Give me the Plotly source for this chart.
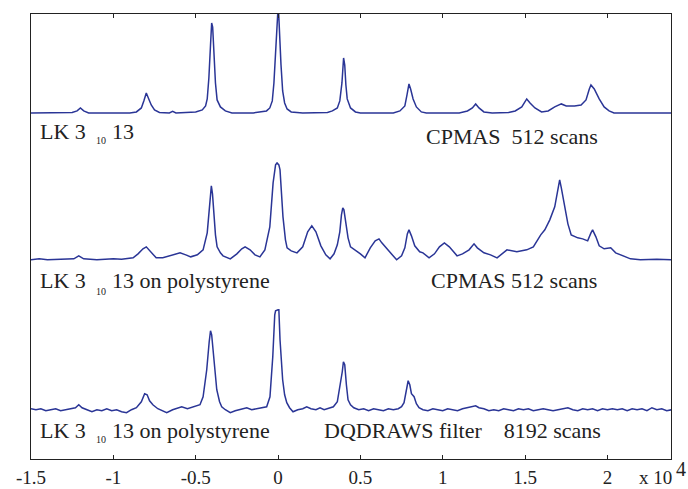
import plotly.graph_objects as go

# ---- data (x in units of 10^4 Hz, intensities in arbitrary units above each baseline) ----
s1_x = [-1.50, -1.30, -1.25, -1.22, -1.20, -1.18, -1.15, -1.00, -0.90, -0.86, -0.83, -0.815, -0.80, -0.79, -0.77,
        -0.75, -0.72, -0.66, -0.64, -0.62, -0.55, -0.50, -0.46, -0.44, -0.43, -0.42, -0.41, -0.403, -0.397, -0.39,
        -0.38, -0.37, -0.35, -0.32, -0.28, -0.15, -0.10, -0.07, -0.05, -0.035, -0.025, -0.015, -0.008, -0.002, 0.004,
        0.01, 0.018, 0.028, 0.04, 0.055, 0.08, 0.15, 0.25, 0.30, 0.33, 0.36, 0.375, 0.388, 0.398, 0.405, 0.412, 0.42,
        0.44, 0.47, 0.50, 0.70, 0.74, 0.77, 0.783, 0.795, 0.805, 0.82, 0.84, 0.87, 0.90, 1.10, 1.15, 1.18, 1.20, 1.22,
        1.25, 1.30, 1.40, 1.44, 1.48, 1.50, 1.51, 1.53, 1.56, 1.60, 1.64, 1.68, 1.72, 1.75, 1.80, 1.84, 1.87, 1.89,
        1.90, 1.92, 1.95, 1.98, 2.01, 2.04, 2.20, 2.39]
s1_y = [0, 0, 0.5, 2, 5, 2, 0, 0, 0, 1, 5, 12, 20, 16, 8,
        3, 0.5, 0, 1.5, 0, 0.5, 1, 3, 7, 14, 35, 68, 90, 86, 62,
        30, 13, 6, 2, 0, 0, 1, 2, 5, 12, 30, 62, 78, 99, 99,
        75, 48, 22, 10, 4, 1, 0, 0, 0.5, 2, 5, 12, 30, 55, 48, 28, 14,
        5, 1, 0, 0, 2, 7, 18, 29, 24, 14, 6, 1, 0, 0, 2, 5, 9, 5,
        1, 0, 0.5, 2, 6, 11, 14, 10, 5, 1, 2, 6, 9, 7, 7, 8, 13, 24,
        28, 24, 14, 6, 2, 0, 0, 0]

s2_x = [-1.50, -1.45, -1.40, -1.30, -1.24, -1.21, -1.18, -1.10, -1.00, -0.95, -0.88, -0.85, -0.82, -0.80, -0.78,
        -0.74, -0.70, -0.66, -0.62, -0.595, -0.56, -0.53, -0.49, -0.455, -0.43, -0.42, -0.41, -0.405, -0.398, -0.39,
        -0.38, -0.37, -0.35, -0.334, -0.29, -0.25, -0.22, -0.20, -0.17, -0.14, -0.11, -0.08, -0.05, -0.03, -0.015,
        -0.006, 0.005, 0.012, 0.02, 0.03, 0.045, 0.055, 0.08, 0.115, 0.15, 0.18, 0.205, 0.23, 0.26, 0.29, 0.316,
        0.34, 0.36, 0.375, 0.385, 0.393, 0.40, 0.41, 0.425, 0.44, 0.478, 0.50, 0.528, 0.56, 0.59, 0.613, 0.63, 0.66,
        0.69, 0.72, 0.75, 0.77, 0.785, 0.795, 0.81, 0.83, 0.86, 0.88, 0.917, 0.95, 0.98, 1.01, 1.04, 1.087, 1.12,
        1.16, 1.19, 1.21, 1.25, 1.29, 1.33, 1.39, 1.45, 1.51, 1.55, 1.595, 1.62, 1.65, 1.68, 1.70, 1.71, 1.72, 1.74,
        1.76, 1.78, 1.82, 1.85, 1.88, 1.90, 1.91, 1.93, 1.95, 1.98, 2.02, 2.05, 2.10, 2.14, 2.20, 2.30, 2.39]
s2_y = [0, 1, 0, 0.5, 1, 4, 1, 0, 1, 0.5, 2, 6, 11, 13, 9,
        2, 2, 4, 6, 7, 5, 3, 5, 10, 27, 50, 72, 74, 66, 45,
        25, 13, 7, 4, 1, 6, 11, 13, 10, 5, 3, 10, 33, 77, 95,
        97, 95, 90, 65, 43, 20, 12, 9, 7, 13, 28, 34, 28, 14, 5, 1,
        6, 15, 28, 45, 52, 50, 38, 22, 13, 9, 6, 2, 12, 19, 21, 17, 11,
        5, 0, 4, 12, 26, 30, 24, 14, 8, 7, 2, 6, 13, 17, 13, 4, 6,
        10, 16, 12, 7, 5, 2, 10, 8, 10, 13, 25, 30, 40, 53, 70, 80, 72, 53,
        36, 25, 22, 21, 19, 27, 30, 23, 14, 11, 12, 7, 4, 1, 0, 0.5, 0]

s3_x = [-1.50, -1.47, -1.44, -1.41, -1.38, -1.35, -1.32, -1.29, -1.26, -1.23, -1.21, -1.19, -1.16, -1.13, -1.10,
        -1.07, -1.04, -1.01, -0.98, -0.95, -0.92, -0.89, -0.86, -0.83, -0.81, -0.795, -0.78, -0.76, -0.73, -0.70,
        -0.676, -0.64, -0.61, -0.585, -0.55, -0.515, -0.474, -0.455, -0.433, -0.418, -0.41, -0.403, -0.393, -0.382,
        -0.372, -0.355, -0.342, -0.32, -0.29, -0.26, -0.23, -0.19, -0.16, -0.12, -0.09, -0.069, -0.049, -0.032,
        -0.02, -0.015, 0.0, 0.005, 0.012, 0.028, 0.04, 0.053, 0.07, 0.091, 0.12, 0.15, 0.174, 0.20, 0.23, 0.255,
        0.28, 0.31, 0.336, 0.36, 0.376, 0.39, 0.397, 0.405, 0.415, 0.425, 0.44, 0.46, 0.49, 0.52, 0.55, 0.58, 0.61,
        0.64, 0.67, 0.70, 0.73, 0.75, 0.765, 0.78, 0.79, 0.80, 0.81, 0.826, 0.84, 0.856, 0.88, 0.91, 0.94, 0.97,
        1.00, 1.03, 1.06, 1.09, 1.12, 1.15, 1.18, 1.20, 1.22, 1.25, 1.28, 1.31, 1.34, 1.37, 1.40, 1.43, 1.46, 1.49,
        1.52, 1.55, 1.58, 1.61, 1.64, 1.67, 1.70, 1.73, 1.76, 1.79, 1.82, 1.85, 1.88, 1.91, 1.94, 1.97, 2.00, 2.03,
        2.06, 2.09, 2.12, 2.15, 2.18, 2.21, 2.24, 2.27, 2.30, 2.33, 2.36, 2.39]
s3_y = [1, 0, 1, -1, 0, 1, -1, 0, 1, 2, 5, 2, 0, -2, 0,
        -1, 1, -1, 0, -2, -3, 0, 2, 8, 16, 15, 9, 5, 1, -1,
        -3, 0, 2, 3, 1, 3, 5, 13, 40, 68, 79, 75, 57, 35,
        20, 8, 3, 0, -3, -1, 0, 2, 0, 1, 2, 3, 13, 53,
        95, 99, 100, 100, 70, 30, 15, 7, 2, -2, 0, 1, 3, 1, 0, 2,
        0, 2, 3, 8, 23, 38, 48, 45, 25, 10, 5, 2, 0, 1, -1, 1, 0,
        -1, 1, 0, 1, 3, 7, 22, 29, 25, 16, 13, 6, 2, 0, -1, 1, 0,
        -1, 1, 0, -1, 1, 2, 3, 4, 2, 1, -1, 0, -1, 1, 0, -1, 1, 0,
        1, -1, 0, 1, 0, -1, 0, 1, 2, 0, -1, 1, 0, 1, -1, 1, 0, 1,
        0, 1, -1, 1, 0, 1, -1, 2, 0, 1, -1, 0]

baselines = [346.3, 199.3, 49.3]
tick_vals = [-1.5, -1, -0.5, 0, 0.5, 1, 1.5, 2]
tick_text = ["-1.5", "-1", "-0.5", "0", "0.5", "1", "1.5", "2"]

FONT = "Liberation Serif"
LINE = "#2a3596"

fig = go.Figure()
for xs, ys, b in [(s1_x, s1_y, baselines[0]), (s2_x, s2_y, baselines[1]), (s3_x, s3_y, baselines[2])]:
    fig.add_trace(go.Scatter(x=xs, y=[v + b for v in ys], mode="lines",
                             line=dict(color=LINE, width=1.5), hoverinfo="skip", showlegend=False))

fig.update_layout(
    width=688, height=489,
    margin=dict(l=31, r=17, t=14, b=30),
    paper_bgcolor="white", plot_bgcolor="white",
    font=dict(family=FONT, size=20, color="#222"),
    xaxis=dict(range=[-1.5, 2.386], tickvals=tick_vals, ticktext=tick_text,
               ticks="inside", ticklen=4, tickwidth=1, tickcolor="#222",
               showline=True, linecolor="#222", linewidth=1.3, mirror="ticks",
               showgrid=False, zeroline=False, ticklabelstandoff=1, automargin=False,
               tickfont=dict(family=FONT, size=19, color="#222")),
    yaxis=dict(range=[0, 445.3], showticklabels=False, ticks="", automargin=False,
               showline=True, linecolor="#222", linewidth=1.3, mirror=True,
               showgrid=False, zeroline=False),
)

def label(text, x, y, size=22, anchor="left"):
    fig.add_annotation(text=text, x=x, y=y, xref="x", yref="y", showarrow=False,
                       xanchor=anchor, yanchor="middle",
                       font=dict(family=FONT, size=size, color="#222"))

NB = "\u00a0"
# left labels
for yc in (328, 179, 29):
    label("LK 3", -1.46, yc)
for yc in (319, 168, 19.5):
    label("10", -1.078, yc, size=10, anchor="center")
label("13", -1.02, 328)
label("13 on polystyrene", -1.02, 179)
label("13 on polystyrene", -1.02, 29)
# right labels
label("CPMAS" + NB + NB + "512 scans", 0.886, 323)
label("CPMAS 512 scans", 0.916, 179)
label("DQDRAWS filter" + NB * 4 + "8192 scans", 0.265, 29)

# exponent
fig.add_annotation(text="x 10", x=0.976, y=-0.042, xref="paper", yref="paper", showarrow=False,
                   xanchor="center", yanchor="middle", font=dict(family=FONT, size=19, color="#222"))
fig.add_annotation(text="4", x=1.016, y=-0.022, xref="paper", yref="paper", showarrow=False,
                   xanchor="center", yanchor="middle", font=dict(family=FONT, size=20, color="#222"))

fig.write_html("out.html")
